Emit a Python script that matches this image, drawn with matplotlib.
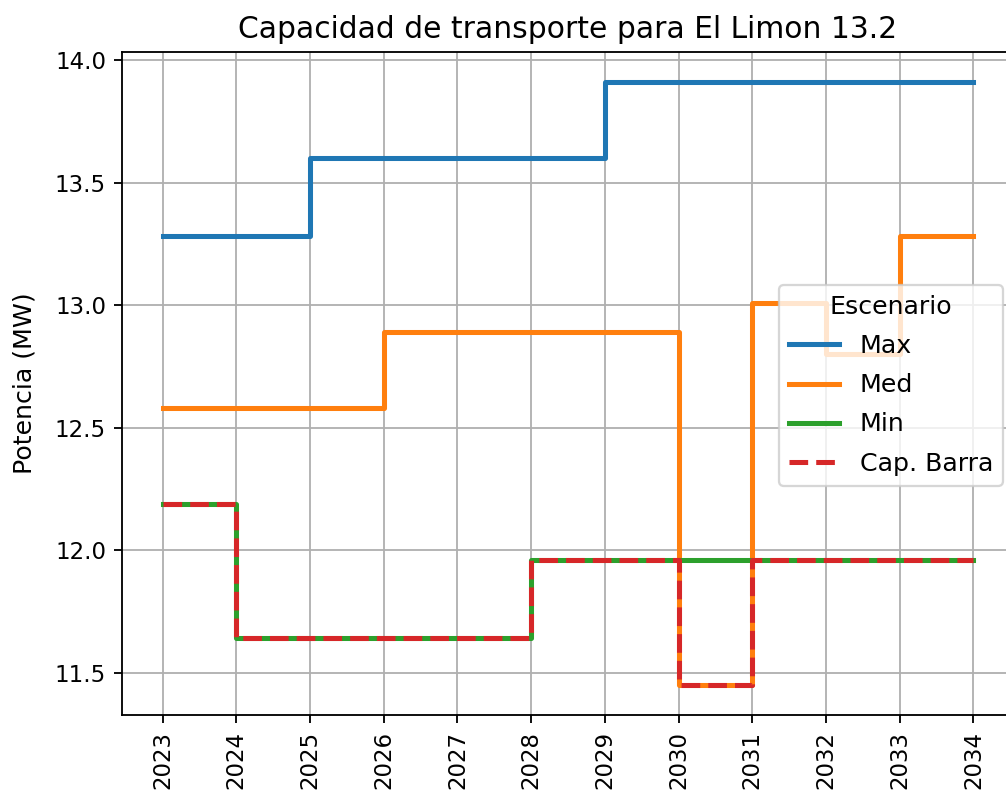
import matplotlib
matplotlib.use('Agg')
import matplotlib.pyplot as plt

# datos (potencia en MW por año)
anos = [2023, 2024, 2025, 2026, 2027, 2028, 2029, 2030, 2031, 2032, 2033, 2034]
cap_max = [13.28, 13.28, 13.60, 13.60, 13.60, 13.60, 13.91, 13.91, 13.91, 13.91, 13.91, 13.91]
cap_med = [12.58, 12.58, 12.58, 12.89, 12.89, 12.89, 12.89, 11.45, 13.01, 12.80, 13.28, 13.28]
cap_min = [12.19, 11.64, 11.64, 11.64, 11.64, 11.96, 11.96, 11.96, 11.96, 11.96, 11.96, 11.96]
cap_barra = [12.19, 11.64, 11.64, 11.64, 11.64, 11.96, 11.96, 11.45, 11.96, 11.96, 11.96, 11.96]

dpi = 165
fig = plt.figure(figsize=(1006/dpi, 802/dpi), dpi=dpi)
# el eje se sale un poco por la derecha, igual que en la figura original
ax = fig.add_axes([122/1006, 1-715/802, 892/1006, 663/802])

ax.step(anos, cap_max, where='post', color='tab:blue', lw=2.2, label='Max')
ax.step(anos, cap_med, where='post', color='tab:orange', lw=2.2, label='Med')
ax.step(anos, cap_min, where='post', color='tab:green', lw=2.2, label='Min')
ax.step(anos, cap_barra, where='post', color='tab:red', lw=2.2, ls='--', label='Cap. Barra')

ax.set_xticks(anos)
ax.set_xticklabels([str(a) for a in anos], rotation=90)
ax.tick_params(labelsize=10)
ax.set_ylabel('Potencia (MW)', fontsize=11, labelpad=8)
ax.set_title('Capacidad de transporte para El Limon 13.2', fontsize=13)
ax.grid(True)

ax.legend(title='Escenario', loc='upper right', fontsize=11, title_fontsize=11,
          borderaxespad=0, labelspacing=0.6,
          bbox_to_anchor=(1003/1006, 1-285/802), bbox_transform=fig.transFigure)

fig.savefig('out.png', dpi=dpi)
